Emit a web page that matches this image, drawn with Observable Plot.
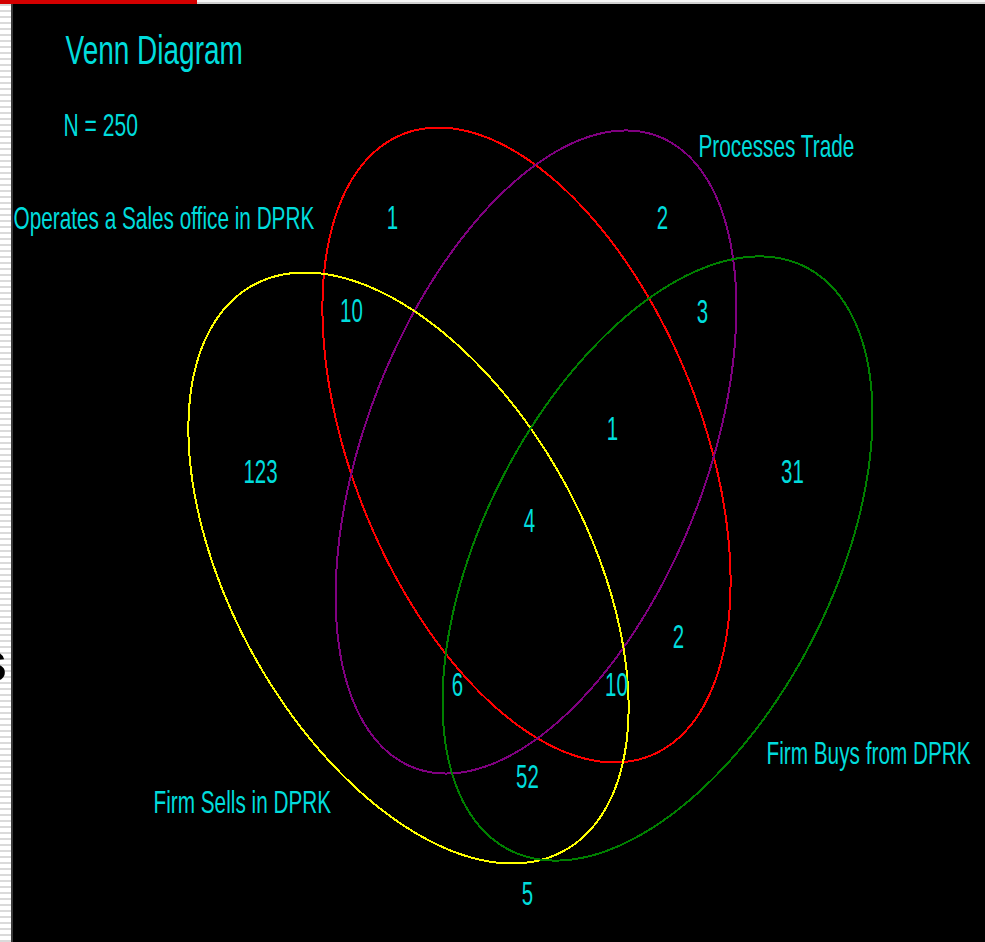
<!DOCTYPE html>
<html>
<head>
<meta charset="utf-8">
<script src="https://cdn.jsdelivr.net/npm/d3@7"></script>
<script src="https://cdn.jsdelivr.net/npm/@observablehq/plot@0.6"></script>
<style>
html, body { margin: 0; padding: 0; background: #000; }
#wrap { position: relative; width: 985px; height: 942px; overflow: hidden; background: #000; }
#chart { position: absolute; left: 0; top: 0; }
#strip { position: absolute; left: 0; top: 0; width: 11px; height: 942px; overflow: hidden;
  background: repeating-linear-gradient(to bottom, #ffffff 0 4px, #dadada 4px 6px);
  border-right: 2px solid #3a3a3a; }
#strip span { position: absolute; left: -24px; top: 634px; font: bold 56px/56px "Liberation Sans", sans-serif; color: #000; }
#topbar { position: absolute; left: 0; top: 0; width: 985px; height: 4px;
  background: linear-gradient(to bottom, #f6f6f6 0 2px, #cfcfcf 2px 4px); }
#redbar { position: absolute; left: 0; top: 0; width: 197px; height: 4px; background: #d40000; }
</style>
</head>
<body>
<div id="wrap">
  <div id="chart"></div>
  <div id="strip"><span>s</span></div>
  <div id="topbar"></div>
  <div id="redbar"></div>
</div>
<script>
// ---- Data ----
const titleLines = ["Venn Diagram", "N = 250"];
const titleX = [65, 63];
const titleY = [63, 135];

// The four sets (ellipses), in chart units
const setNames = ["Operates a Sales office in DPRK", "Processes Trade", "Firm Sells in DPRK", "Firm Buys from DPRK"];
const setColors = ["#ff0000", "#800080", "#ffff00", "#008000"];
const centerX = [526, 535.5, 408, 657];
const centerY = [444.5, 451.5, 567.5, 558];
const radiusMajor = [334.5, 338.5, 322.7, 326.9];
const radiusMinor = [174.7, 170.1, 177.8, 174.9];
const tiltDeg = [68.3, -68.8, 61.2, -63.1];
const labelX = [13, 698, 153, 766];
const labelY = [228, 156, 812, 763];

// Region counts (O = Operates sales office, P = Processes trade, S = Sells, B = Buys)
const regionSets = ["O", "P", "OS", "PB", "S", "OPB", "B", "OPSB", "OB", "PSB", "OSB", "SB", "none"];
const regionCount = [1, 2, 10, 3, 123, 1, 31, 4, 2, 6, 10, 52, 5];
const regionX = [392, 662, 351, 702, 260, 612, 792, 529, 678, 457, 616, 527, 527];
const regionY = [228, 228, 321, 322, 482, 439, 482, 531, 647, 695, 695, 787, 904];

// ---- Build outline table from ellipse parameters ----
const outline = [];
setNames.forEach((name, s) => {
  const th = tiltDeg[s] * Math.PI / 180;
  for (let k = 0; k <= 360; k++) {
    const t = k * Math.PI / 180;
    outline.push({
      set: name,
      color: setColors[s],
      x: centerX[s] + radiusMajor[s] * Math.cos(th) * Math.cos(t) - radiusMinor[s] * Math.sin(th) * Math.sin(t),
      y: centerY[s] + radiusMajor[s] * Math.sin(th) * Math.cos(t) + radiusMinor[s] * Math.cos(th) * Math.sin(t)
    });
  }
});

const textColor = "#00dcdc";
const font = "'Liberation Sans', Arial, sans-serif";

const chart = Plot.plot({
  width: 985,
  height: 942,
  margin: 0,
  x: { domain: [0, 985], range: [0, 985], axis: null },
  y: { domain: [0, 942], range: [0, 942], axis: null },
  color: { type: "identity" },
  style: { background: "#000", overflow: "visible" },
  marks: [
    Plot.line(outline, { x: "x", y: "y", z: "set", stroke: "color", strokeWidth: 2, curve: "linear", shapeRendering: "crispEdges" }),
    Plot.text(titleLines.slice(0, 1), { x: (d, i) => titleX[i], y: (d, i) => titleY[i], text: d => d, fill: textColor, fontSize: 40, fontFamily: font, textAnchor: "start", lineAnchor: "bottom" }),
    Plot.text(titleLines.slice(1), { x: (d, i) => titleX[i + 1], y: (d, i) => titleY[i + 1], text: d => d, fill: textColor, fontSize: 31, fontFamily: font, textAnchor: "start", lineAnchor: "bottom" }),
    Plot.text(setNames, { x: (d, i) => labelX[i], y: (d, i) => labelY[i], text: d => d, fill: textColor, fontSize: 31, fontFamily: font, textAnchor: "start", lineAnchor: "bottom" }),
    Plot.text(regionCount, { x: (d, i) => regionX[i], y: (d, i) => regionY[i], text: d => String(d), fill: textColor, fontSize: 33, fontFamily: font, textAnchor: "middle", lineAnchor: "bottom" })
  ]
});

// condensed (narrow) lettering like the original bitmap font; one factor per text mark, in mark order
const condense = [0.70, 0.68, 0.67, 0.62];
const textGroups = chart.querySelectorAll('g[aria-label="text"]');
textGroups.forEach((g, gi) => {
  const k = condense[gi] ?? 0.66;
  g.querySelectorAll("text").forEach(t => {
    const tr = t.getAttribute("transform");
    if (tr && /translate/.test(tr)) {
      t.setAttribute("transform", `${tr} scale(${k},1)`);
    } else {
      const x = +(t.getAttribute("x") || 0), y = +(t.getAttribute("y") || 0);
      t.removeAttribute("x"); t.removeAttribute("y");
      t.setAttribute("transform", `${tr ? tr + " " : ""}translate(${x},${y}) scale(${k},1)`);
    }
  });
});
document.getElementById("chart").appendChild(chart);
</script>
</body>
</html>
